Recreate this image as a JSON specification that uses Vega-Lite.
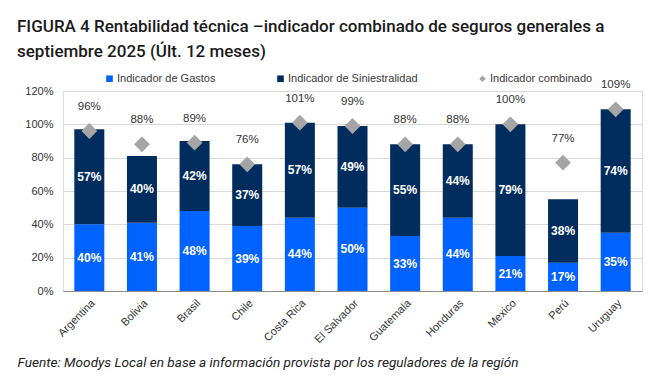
{
  "$schema": "https://vega.github.io/schema/vega-lite/v6.json",
  "width": 579,
  "height": 200,
  "autosize": {"type": "none"},
  "padding": {"left": 63, "top": 91, "right": 23, "bottom": 100},
  "background": "white",
  "title": {
    "text": ["FIGURA 4 Rentabilidad técnica –indicador combinado de seguros generales a", "septiembre 2025 (Últ. 12 meses)"],
    "anchor": "start",
    "frame": "group",
    "orient": "top",
    "dx": -46,
    "offset": 12,
    "font": "Roboto",
    "fontSize": 17,
    "fontWeight": 500,
    "color": "#1a1a1a",
    "lineHeight": 25
  },
  "data": {
    "values": [
      {"pais": "Argentina", "serie": "Indicador de Gastos", "valor": 0.40},
      {"pais": "Argentina", "serie": "Indicador de Siniestralidad", "valor": 0.57},
      {"pais": "Argentina", "serie": "Indicador combinado", "valor": 0.96},
      {"pais": "Bolivia", "serie": "Indicador de Gastos", "valor": 0.41},
      {"pais": "Bolivia", "serie": "Indicador de Siniestralidad", "valor": 0.40},
      {"pais": "Bolivia", "serie": "Indicador combinado", "valor": 0.88},
      {"pais": "Brasil", "serie": "Indicador de Gastos", "valor": 0.48},
      {"pais": "Brasil", "serie": "Indicador de Siniestralidad", "valor": 0.42},
      {"pais": "Brasil", "serie": "Indicador combinado", "valor": 0.89},
      {"pais": "Chile", "serie": "Indicador de Gastos", "valor": 0.39},
      {"pais": "Chile", "serie": "Indicador de Siniestralidad", "valor": 0.37},
      {"pais": "Chile", "serie": "Indicador combinado", "valor": 0.76},
      {"pais": "Costa Rica", "serie": "Indicador de Gastos", "valor": 0.44},
      {"pais": "Costa Rica", "serie": "Indicador de Siniestralidad", "valor": 0.57},
      {"pais": "Costa Rica", "serie": "Indicador combinado", "valor": 1.01},
      {"pais": "El Salvador", "serie": "Indicador de Gastos", "valor": 0.50},
      {"pais": "El Salvador", "serie": "Indicador de Siniestralidad", "valor": 0.49},
      {"pais": "El Salvador", "serie": "Indicador combinado", "valor": 0.99},
      {"pais": "Guatemala", "serie": "Indicador de Gastos", "valor": 0.33},
      {"pais": "Guatemala", "serie": "Indicador de Siniestralidad", "valor": 0.55},
      {"pais": "Guatemala", "serie": "Indicador combinado", "valor": 0.88},
      {"pais": "Honduras", "serie": "Indicador de Gastos", "valor": 0.44},
      {"pais": "Honduras", "serie": "Indicador de Siniestralidad", "valor": 0.44},
      {"pais": "Honduras", "serie": "Indicador combinado", "valor": 0.88},
      {"pais": "Mexico", "serie": "Indicador de Gastos", "valor": 0.21},
      {"pais": "Mexico", "serie": "Indicador de Siniestralidad", "valor": 0.79},
      {"pais": "Mexico", "serie": "Indicador combinado", "valor": 1.00},
      {"pais": "Perú", "serie": "Indicador de Gastos", "valor": 0.17},
      {"pais": "Perú", "serie": "Indicador de Siniestralidad", "valor": 0.38},
      {"pais": "Perú", "serie": "Indicador combinado", "valor": 0.77},
      {"pais": "Uruguay", "serie": "Indicador de Gastos", "valor": 0.35},
      {"pais": "Uruguay", "serie": "Indicador de Siniestralidad", "valor": 0.74},
      {"pais": "Uruguay", "serie": "Indicador combinado", "valor": 1.09}
    ]
  },
  "encoding": {
    "x": {
      "field": "pais",
      "type": "nominal",
      "sort": null,
      "scale": {"paddingInner": 0.43, "paddingOuter": 0.215},
      "axis": {
        "title": "Fuente: Moodys Local en base a información provista por los reguladores de la región",
        "titleAnchor": "start",
        "titleAlign": "left",
        "titleX": -46,
        "titleY": 71,
        "titleBaseline": "middle",
        "titleFont": "Roboto",
        "titleFontSize": 13.6,
        "titleFontStyle": "italic",
        "titleFontWeight": "normal",
        "titleColor": "#222222",
        "labelAngle": -45,
        "labelAlign": "right",
        "labelBaseline": "top",
        "labelFont": "Liberation Sans",
        "labelFontSize": 11,
        "labelColor": "#333333",
        "labelPadding": 6,
        "ticks": false,
        "domainColor": "#8c8c8c",
        "domainWidth": 1.2,
        "grid": false
      }
    }
  },
  "config": {
    "axisY": {
      "tickCount": 6,
      "format": ".0%",
      "title": null,
      "labelFont": "Liberation Sans",
      "labelFontSize": 11,
      "labelColor": "#333333",
      "labelPadding": 10,
      "ticks": false,
      "domain": false,
      "grid": true,
      "gridColor": "#D9D9D9",
      "gridWidth": 1
    }
  },
  "layer": [
    {
      "transform": [{"filter": "datum.serie !== 'Indicador combinado'"}],
      "layer": [
        {
          "mark": {"type": "bar"},
          "encoding": {
            "y": {
              "field": "valor",
              "type": "quantitative",
              "stack": "zero",
              "scale": {"domain": [0, 1.2]},
              "title": null,
              "axis": {"format": ".0%", "tickCount": 6, "title": null}
            },
            "order": {"field": "serie", "type": "nominal", "sort": "ascending"},
            "color": {
              "field": "serie",
              "type": "nominal",
              "scale": {
                "domain": ["Indicador de Gastos", "Indicador de Siniestralidad", "Indicador combinado"],
                "range": ["#0062FF", "#002D5E", "#A5A5A5"]
              },
              "legend": {
                "title": null,
                "orient": "none",
                "legendX": 41,
                "legendY": -18,
                "direction": "horizontal",
                "columns": 3,
                "columnPadding": 59,
                "labelFont": "Liberation Sans",
                "labelFontSize": 11,
                "labelColor": "#3a3a3a",
                "symbolSize": 44,
                "labelOffset": 2,
                "symbolStrokeWidth": 0
              }
            }
          }
        },
        {
          "mark": {"type": "text", "color": "white", "fontWeight": "bold", "fontSize": 12, "font": "Liberation Sans"},
          "encoding": {
            "y": {"field": "valor", "type": "quantitative", "stack": "zero", "bandPosition": 0.5, "title": null, "axis": {"format": ".0%", "tickCount": 6, "title": null}},
            "detail": {"field": "serie", "type": "nominal"},
            "order": {"field": "serie", "type": "nominal", "sort": "ascending"},
            "text": {"field": "valor", "type": "quantitative", "format": ".0%"}
          }
        }
      ]
    },
    {
      "transform": [{"filter": "datum.serie === 'Indicador combinado'"}],
      "layer": [
        {
          "mark": {"type": "point", "filled": true, "size": 250, "opacity": 1},
          "encoding": {
            "y": {"field": "valor", "type": "quantitative", "title": null, "axis": {"format": ".0%", "tickCount": 6, "title": null}},
            "color": {"field": "serie", "type": "nominal"},
            "shape": {
              "field": "serie",
              "type": "nominal",
              "scale": {
                "domain": ["Indicador de Gastos", "Indicador de Siniestralidad", "Indicador combinado"],
                "range": ["square", "square", "diamond"]
              }
            }
          }
        },
        {
          "mark": {"type": "text", "dy": -24, "fontSize": 11.5, "font": "Liberation Sans", "color": "#333333"},
          "encoding": {
            "y": {"field": "valor", "type": "quantitative", "title": null, "axis": {"format": ".0%", "tickCount": 6, "title": null}},
            "text": {"field": "valor", "type": "quantitative", "format": ".0%"}
          }
        }
      ]
    }
  ]
}
